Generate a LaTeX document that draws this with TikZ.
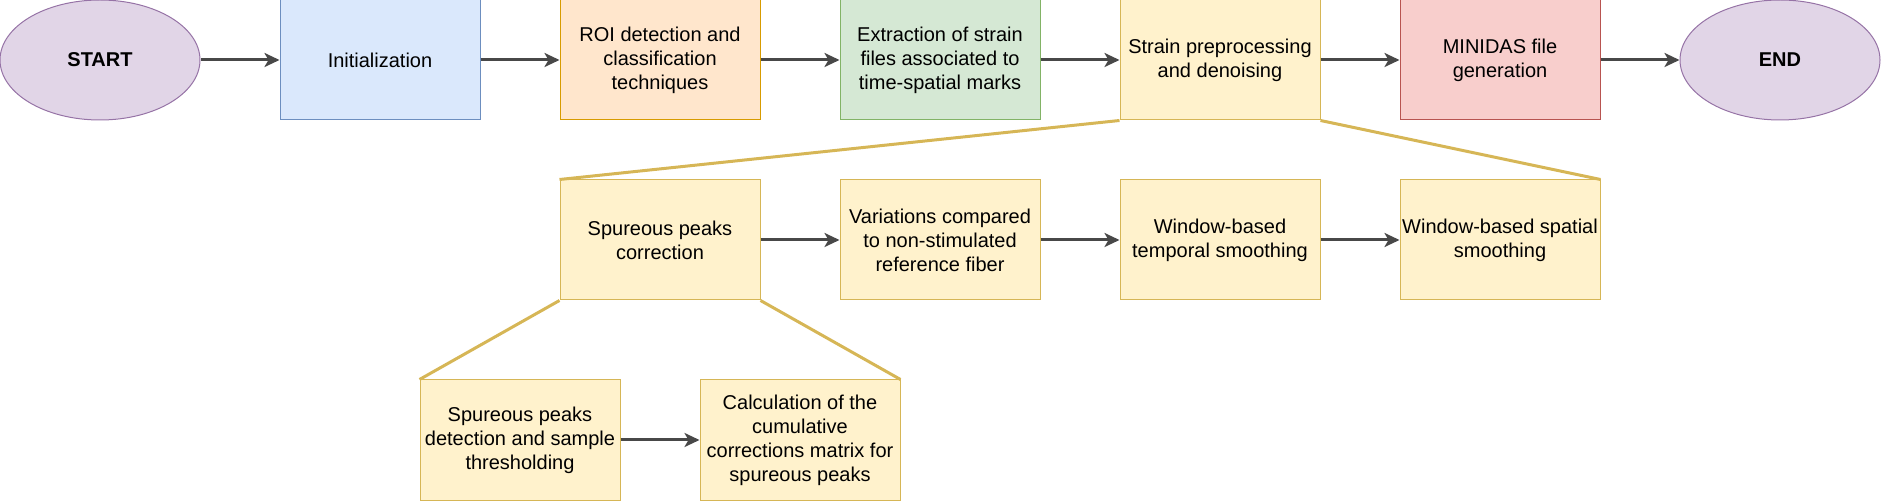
\documentclass[tikz,border=0pt]{standalone}
\usepackage{fontspec}
\setmainfont{Liberation Sans}
\usetikzlibrary{shapes.geometric,arrows.meta}
\definecolor{purplefill}{HTML}{E1D5E7}
\definecolor{purpleline}{HTML}{9673A6}
\definecolor{bluefill}{HTML}{DAE8FC}
\definecolor{blueline}{HTML}{6C8EBF}
\definecolor{orangefill}{HTML}{FFE6CC}
\definecolor{orangeline}{HTML}{D79B00}
\definecolor{greenfill}{HTML}{D5E8D4}
\definecolor{greenline}{HTML}{82B366}
\definecolor{yellowfill}{HTML}{FFF2CC}
\definecolor{yellowline}{HTML}{D6B656}
\definecolor{redfill}{HTML}{F8CECC}
\definecolor{redline}{HTML}{B85450}
\definecolor{arrowgray}{HTML}{484848}

\begin{document}
\begin{tikzpicture}[x=0.5pt,y=-0.5pt,
  font=\fontsize{10}{12}\selectfont,
  box/.style={rectangle,minimum width=100pt,minimum height=60pt,inner sep=0pt,align=center,line width=0.5pt},
  terminal/.style={ellipse,draw=purpleline,fill=purplefill,minimum width=100pt,minimum height=60pt,inner sep=0pt,line width=0.5pt,font=\fontsize{10}{12}\selectfont\bfseries},
  stepblue/.style={box,draw=blueline,fill=bluefill},
  steporange/.style={box,draw=orangeline,fill=orangefill},
  stepgreen/.style={box,draw=greenline,fill=greenfill},
  stepyellow/.style={box,draw=yellowline,fill=yellowfill},
  stepred/.style={box,draw=redline,fill=redfill},
  flow/.style={draw=arrowgray,line width=1.5pt,-{Stealth[length=7.5pt,width=7pt,inset=2pt]}},
  zoomline/.style={draw=yellowline,line width=1.5pt}]
\useasboundingbox (0,0) rectangle (1881,502);
\node [terminal] (start) at (100,60) {START};
\node [stepblue] (init) at (380,60) {Initialization};
\node [steporange] (roi) at (660,60) {ROI detection and\\classification\\techniques};
\node [stepgreen] (extract) at (940,60) {Extraction of strain\\files associated to\\time-spatial marks};
\node [stepyellow] (prep) at (1220,60) {Strain preprocessing\\and denoising};
\node [stepred] (minidas) at (1500,60) {MINIDAS file\\generation};
\node [terminal] (end) at (1780,60) {END};
\node [stepyellow] (peaks) at (660,240) {Spureous peaks\\correction};
\node [stepyellow] (variations) at (940,240) {Variations compared\\to non-stimulated\\reference fiber};
\node [stepyellow] (temporal) at (1220,240) {Window-based\\temporal smoothing};
\node [stepyellow] (spatial) at (1500,240) {Window-based spatial\\smoothing};
\node [stepyellow] (detect) at (520,440) {Spureous peaks\\detection and sample\\thresholding};
\node [stepyellow] (cumul) at (800,440) {Calculation of the\\cumulative\\corrections matrix for\\spureous peaks};
\draw [flow] (start) -- (init);
\draw [flow] (init) -- (roi);
\draw [flow] (roi) -- (extract);
\draw [flow] (extract) -- (prep);
\draw [flow] (prep) -- (minidas);
\draw [flow] (minidas) -- (end);
\draw [flow] (peaks) -- (variations);
\draw [flow] (variations) -- (temporal);
\draw [flow] (temporal) -- (spatial);
\draw [flow] (detect) -- (cumul);
\draw [zoomline] (prep.south west) -- (peaks.north west);
\draw [zoomline] (prep.south east) -- (spatial.north east);
\draw [zoomline] (peaks.south west) -- (detect.north west);
\draw [zoomline] (peaks.south east) -- (cumul.north east);
\end{tikzpicture}
\end{document}
